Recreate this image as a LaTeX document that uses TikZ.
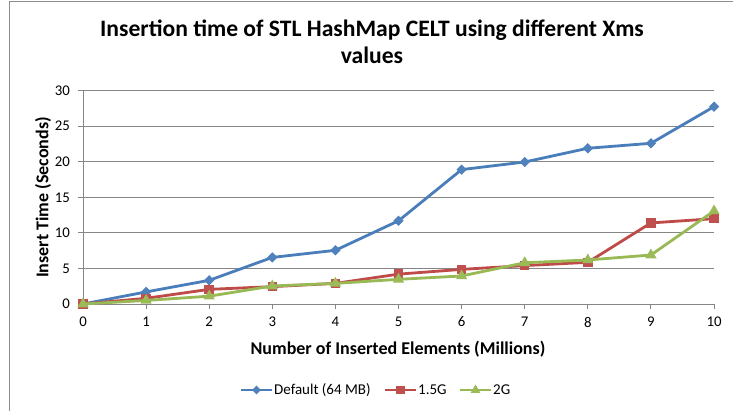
\documentclass[tikz,border=0pt]{standalone}
\usepackage{fontspec}
\setmainfont{Carlito}
\usetikzlibrary{shapes.geometric,calc}

\definecolor{lineA}{HTML}{4A7EBB}
\definecolor{markA}{HTML}{4F81BD}
\definecolor{lineB}{HTML}{BE4B48}
\definecolor{markB}{HTML}{C0504D}
\definecolor{lineC}{HTML}{98B954}
\definecolor{markC}{HTML}{9BBB59}
\definecolor{gridc}{HTML}{868686}
\definecolor{framec}{HTML}{8C8C8C}

\tikzset{
  gridline/.style={gridc, line width=0.9bp},
  serline/.style={line width=2.8bp, line join=round, line cap=round},
  mkA/.style={diamond, fill=markA, inner sep=0pt, minimum size=10.5bp},
  mkB/.style={rectangle, fill=markB, inner sep=0pt, minimum size=9.5bp},
  mkC/.style={regular polygon, regular polygon sides=3, fill=markC, inner sep=0pt, minimum size=13bp},
  ticklabel/.style={font=\fontsize{14.8bp}{17bp}\selectfont, inner sep=0pt},
  axislabel/.style={font=\bfseries\fontsize{18bp}{21bp}\selectfont, inner sep=0pt},
  titlefont/.style={font=\bfseries\fontsize{23.6bp}{28bp}\selectfont, inner sep=0pt},
  legendtext/.style={font=\fontsize{15bp}{18bp}\selectfont, inner sep=0pt, anchor=west},
}

\begin{document}
\begin{tikzpicture}[x=1bp, y=1bp]
\useasboundingbox (0,0) rectangle (733,411);
\fill[white] (0,0) rectangle (733,411);

% chart frame (top and left edges)
\draw[framec, line width=1bp] (9,0) -- (9,409) -- (733,409);

% title
\node[titlefont, anchor=base] (title1) at (372,374.3) {Insertion time of STL HashMap CELT using different Xms};
\node[titlefont, anchor=base] (title2) at (372,348) {values};

% plot area: one unit in x is one million elements, one unit in y is one second
\begin{scope}[shift={(83,107)}, x=63.1bp, y=7.111bp]
  % gridlines and axes
  \foreach \v in {5,10,...,30}
    \draw[gridline] (0,\v) -- (10,\v);
  \draw[gridline] (0,0) -- (10,0);
  \draw[gridline] (0,0) -- (0,30);
  \foreach \v in {0,5,...,30} {
    \draw[gridline] (0,\v) -- ++(-5bp,0pt);
    \node[ticklabel, anchor=east] (yt\v) at ([xshift=-13bp]0,\v) {\v};
  }
  \foreach \i in {0,...,10} {
    \draw[gridline] (\i,0) -- ++(0pt,-5bp);
    \node[ticklabel] (xt\i) at ([yshift=-18bp]\i,0) {\i};
  }

  % data points
  \foreach \v [count=\i from 0] in {0,1.7,3.33,6.55,7.55,11.7,18.9,19.97,21.9,22.6,27.75}
    \coordinate (a\i) at (\i,\v);
  \foreach \v [count=\i from 0] in {0,0.8,2.06,2.44,2.9,4.2,4.87,5.4,5.86,11.4,12.0}
    \coordinate (b\i) at (\i,\v);
  \foreach \v [count=\i from 0] in {0,0.5,1.1,2.53,2.9,3.47,3.94,5.8,6.19,6.89,13.08}
    \coordinate (c\i) at (\i,\v);
\end{scope}

% series: Default (64 MB)
\draw[serline, lineA] (a0) -- (a1) -- (a2) -- (a3) -- (a4) -- (a5) -- (a6) -- (a7) -- (a8) -- (a9) -- (a10);
\foreach \i in {0,...,10}
  \node[mkA] (ma\i) at (a\i) {};
% series: 1.5G
\draw[serline, lineB] (b0) -- (b1) -- (b2) -- (b3) -- (b4) -- (b5) -- (b6) -- (b7) -- (b8) -- (b9) -- (b10);
\foreach \i in {0,...,10}
  \node[mkB] (mb\i) at (b\i) {};
% series: 2G
\draw[serline, lineC] (c0) -- (c1) -- (c2) -- (c3) -- (c4) -- (c5) -- (c6) -- (c7) -- (c8) -- (c9) -- (c10);
\foreach \i in {0,...,10}
  \node[mkC] (mc\i) at (c\i) {};

% axis titles
\node[axislabel, anchor=base] (xlabel) at (398,56.5) {Number of Inserted Elements (Millions)};
\node[axislabel, rotate=90, anchor=base] (ylabel) at (48.3,213.5) {Insert Time (Seconds)};

% legend
\coordinate (la1) at (241,21);
\coordinate (la2) at (272,21);
\draw[serline, lineA, line cap=butt] (la1) -- (la2);
\node[mkA, minimum size=9bp] (lma) at ($(la1)!0.5!(la2)$) {};
\node[legendtext] (lta) at (274,21) {Default (64 MB)};

\coordinate (lb1) at (385,21);
\coordinate (lb2) at (416,21);
\draw[serline, lineB, line cap=butt] (lb1) -- (lb2);
\node[mkB, minimum size=8.5bp] (lmb) at ($(lb1)!0.5!(lb2)$) {};
\node[legendtext] (ltb) at (418,21) {1.5G};

\coordinate (lc1) at (460,21);
\coordinate (lc2) at (491,21);
\draw[serline, lineC, line cap=butt] (lc1) -- (lc2);
\node[mkC, minimum size=11bp] (lmc) at ($(lc1)!0.5!(lc2)$) {};
\node[legendtext] (ltc) at (493,21) {2G};
\end{tikzpicture}
\end{document}
